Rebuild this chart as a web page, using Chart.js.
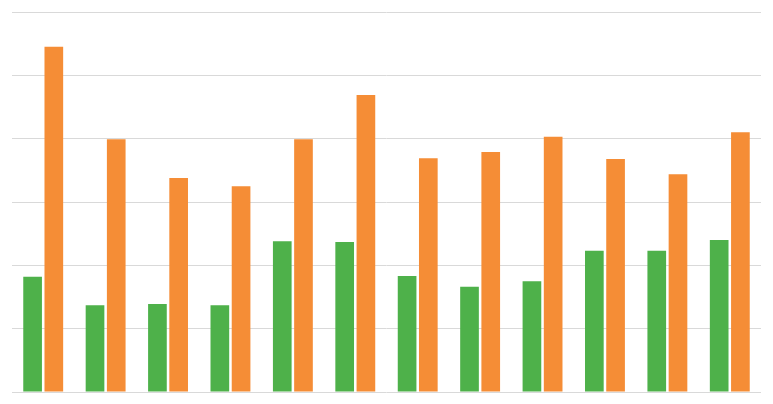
<!DOCTYPE html>
<html>
<head>
<meta charset="utf-8">
<script src="https://cdn.jsdelivr.net/npm/chart.js@4"></script>
<style>
html,body{margin:0;padding:0;background:#fff;}
#c{display:block;}
</style>
</head>
<body>
<canvas id="c" width="773" height="404"></canvas>
<script>
const categories = ["1","2","3","4","5","6","7","8","9","10","11","12"];
const greenValues = [1.82, 1.37, 1.39, 1.37, 2.38, 2.37, 1.83, 1.66, 1.75, 2.23, 2.23, 2.40];
const orangeValues = [5.45, 3.99, 3.38, 3.25, 3.99, 4.69, 3.69, 3.79, 4.03, 3.68, 3.44, 4.10];
const yTicks = [0, 1, 2, 3, 4, 5, 6];

new Chart(document.getElementById('c'), {
  type: 'bar',
  data: {
    labels: categories,
    datasets: [
      { data: greenValues, backgroundColor: '#4EB14A', categoryPercentage: 0.68, barPercentage: 0.88 },
      { data: orangeValues, backgroundColor: '#F58D36', categoryPercentage: 0.68, barPercentage: 0.88 }
    ]
  },
  options: {
    responsive: false,
    animation: false,
    devicePixelRatio: 1,
    layout: { padding: { left: 12, right: 12, top: 12, bottom: 12 } },
    plugins: { legend: { display: false }, tooltip: { enabled: false } },
    scales: {
      x: { display: false, grid: { display: false } },
      y: {
        min: yTicks[0], max: yTicks[yTicks.length - 1],
        afterBuildTicks: s => { s.ticks = yTicks.map(v => ({ value: v })); },
        ticks: { display: false },
        border: { display: false },
        grid: { color: '#d9d9d9', lineWidth: 1, drawTicks: false }
      }
    }
  }
});
</script>
</body>
</html>
